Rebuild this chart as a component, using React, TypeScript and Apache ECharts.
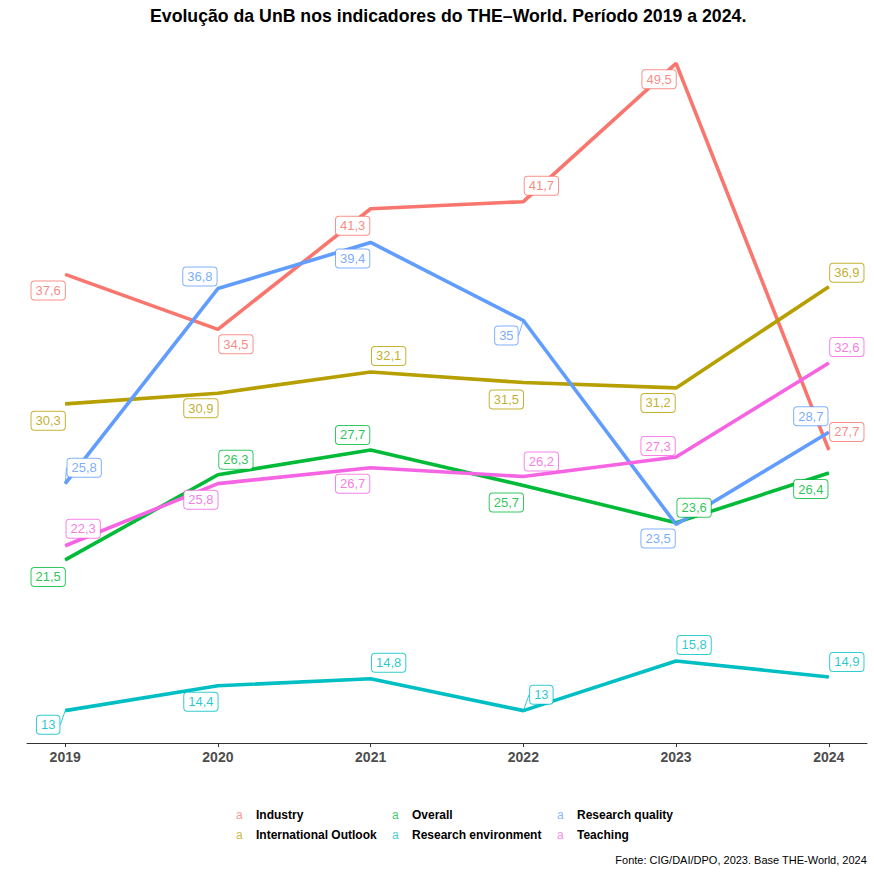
import React, { useEffect, useRef } from "react";
import * as echarts from "echarts";

const years = [2019, 2020, 2021, 2022, 2023, 2024];
const industry = [37.6, 34.5, 41.3, 41.7, 49.5, 27.7];
const internationalOutlook = [30.3, 30.9, 32.1, 31.5, 31.2, 36.9];
const overall = [21.5, 26.3, 27.7, 25.7, 23.6, 26.4];
const researchEnvironment = [13, 14.4, 14.8, 13, 15.8, 14.9];
const researchQuality = [25.8, 36.8, 39.4, 35, 23.5, 28.7];
const teaching = [22.3, 25.8, 26.7, 26.2, 27.3, 32.6];

const seriesNames = [
  "Industry",
  "International Outlook",
  "Overall",
  "Research environment",
  "Research quality",
  "Teaching",
];
const seriesValues = [industry, internationalOutlook, overall, researchEnvironment, researchQuality, teaching];
const palette = ["#F8766D", "#B79F00", "#00BA38", "#00BFC4", "#619CFF", "#F564E3"];

// label displacement (repelled labels), px relative to the point
const labelShift = [
  [[-17, 16], [18, 15], [-18, 17], [18, -16], [-17, 16], [18, -18]],
  [[-17, 17], [-17, 15], [18, -16], [-17, 17], [-18, 15], [18, -14]],
  [[-17, 17], [18, -15], [-18, -15], [-17, 17], [18, -15], [-18, 16]],
  [[-17, 14], [-17, 16], [18, -16], [18, -16], [18, -16], [18, -15]],
  [[19, -16], [-18, -12], [-18, 16], [-17, 15], [-18, 14], [-18, -16]],
  [[18, -17], [-17, 16], [-18, 16], [18, -15], [-18, -11], [18, -16]],
];
const guideLines: Record<number, number[]> = { 3: [0, 3], 4: [0, 3] };

const FONT = "'Liberation Sans', Arial, Helvetica, sans-serif";

function alpha(hex: string, a: number) {
  const r = parseInt(hex.slice(1, 3), 16);
  const g = parseInt(hex.slice(3, 5), 16);
  const b = parseInt(hex.slice(5, 7), 16);
  return `rgba(${r},${g},${b},${a})`;
}

export default function App() {
  const ref = useRef<HTMLDivElement>(null);
  useEffect(() => {
    if (!ref.current) return;
    const chart = echarts.init(ref.current, null, { renderer: "svg" });

    const lineSeries = seriesNames.map((name, s) => ({
      type: "line",
      name,
      color: palette[s],
      data: years.map((y, i) => [y, seriesValues[s][i]]),
      showSymbol: false,
      lineStyle: { width: 3.6, color: palette[s] },
      itemStyle: { color: palette[s] },
      emphasis: { disabled: true },
      z: 2,
    }));

    const labelSeries = seriesNames.map((name, s) => ({
      type: "scatter",
      name,
      color: palette[s],
      data: years.map((y, i) => ({
        value: [y, seriesValues[s][i]],
        labelLine: { show: (guideLines[s] || []).includes(i) },
      })),
      symbol: "circle",
      symbolSize: 1,
      itemStyle: { color: palette[s], opacity: 1 },
      emphasis: { disabled: true },
      silent: true,
      label: {
        show: true,
        position: "inside",
        formatter: (p: any) => String(p.value[1]).replace(".", ","),
        fontFamily: FONT,
        fontSize: 13,
        lineHeight: 13,
        color: alpha(palette[s], 0.85),
        backgroundColor: "#ffffff",
        borderColor: alpha(palette[s], 0.8),
        borderWidth: 1,
        borderRadius: 3,
        padding: [3, 4, 2, 4],
      },
      labelLine: { show: false, lineStyle: { color: alpha(palette[s], 0.8), width: 1 } },
      labelLayout: (params: any) => {
        const o = labelShift[s][params.dataIndex];
        return { dx: o[0], dy: o[1] };
      },
      z: 10,
    }));

    const rich: any = {
      t: { fontFamily: FONT, fontSize: 12, fontWeight: "bold", color: "#000000", lineHeight: 14 },
    };
    palette.forEach((c, i) => {
      rich["c" + i] = { fontFamily: FONT, fontSize: 12, color: alpha(c, 0.75), width: 20, lineHeight: 14 };
    });
    const makeLegend = (left: number, names: string[]) => ({
      orient: "vertical",
      left,
      top: 803,
      icon: "none",
      itemWidth: 0,
      itemHeight: 14,
      itemGap: 7,
      selectedMode: false,
      data: names,
      formatter: (name: string) => `{c${seriesNames.indexOf(name)}|a}{t|${name}}`,
      textStyle: { rich },
    });

    chart.setOption({
      animation: false,
      backgroundColor: "#ffffff",
      title: [
        {
          text: "Evolução da UnB nos indicadores do THE–World. Período 2019 a 2024.",
          left: 145,
          top: 2,
          textStyle: { fontFamily: FONT, fontSize: 17.7, fontWeight: "bold", color: "#000000" },
        },
        {
          text: "Fonte: CIG/DAI/DPO, 2023. Base THE-World, 2024",
          right: 2,
          top: 849,
          textStyle: { fontFamily: FONT, fontSize: 11, fontWeight: "normal", color: "#000000" },
        },
      ],
      legend: [
        makeLegend(226, ["Industry", "International Outlook"]),
        makeLegend(382, ["Overall", "Research environment"]),
        makeLegend(547, ["Research quality", "Teaching"]),
      ],
      grid: { left: 27, right: 7, top: 31, bottom: 131, containLabel: false },
      xAxis: {
        type: "value",
        min: 2018.75,
        max: 2024.25,
        splitLine: { show: false },
        axisLine: { show: true, lineStyle: { color: "#333333", width: 1 } },
        axisTick: { show: true, customValues: years, length: 4, lineStyle: { color: "#333333" } },
        axisLabel: {
          customValues: years,
          formatter: (v: number) => String(v),
          fontFamily: FONT,
          fontSize: 14,
          fontWeight: "bold",
          color: "#4D4D4D",
          margin: 7,
        },
      },
      yAxis: {
        type: "value",
        min: 11.175,
        max: 51.325,
        show: false,
        splitLine: { show: false },
      },
      series: [...lineSeries, ...labelSeries],
    });
    return () => chart.dispose();
  }, []);
  return (
    <div
      ref={ref}
      style={{ position: "absolute", left: 0, top: 0, width: 874, height: 874 }}
    />
  );
}
